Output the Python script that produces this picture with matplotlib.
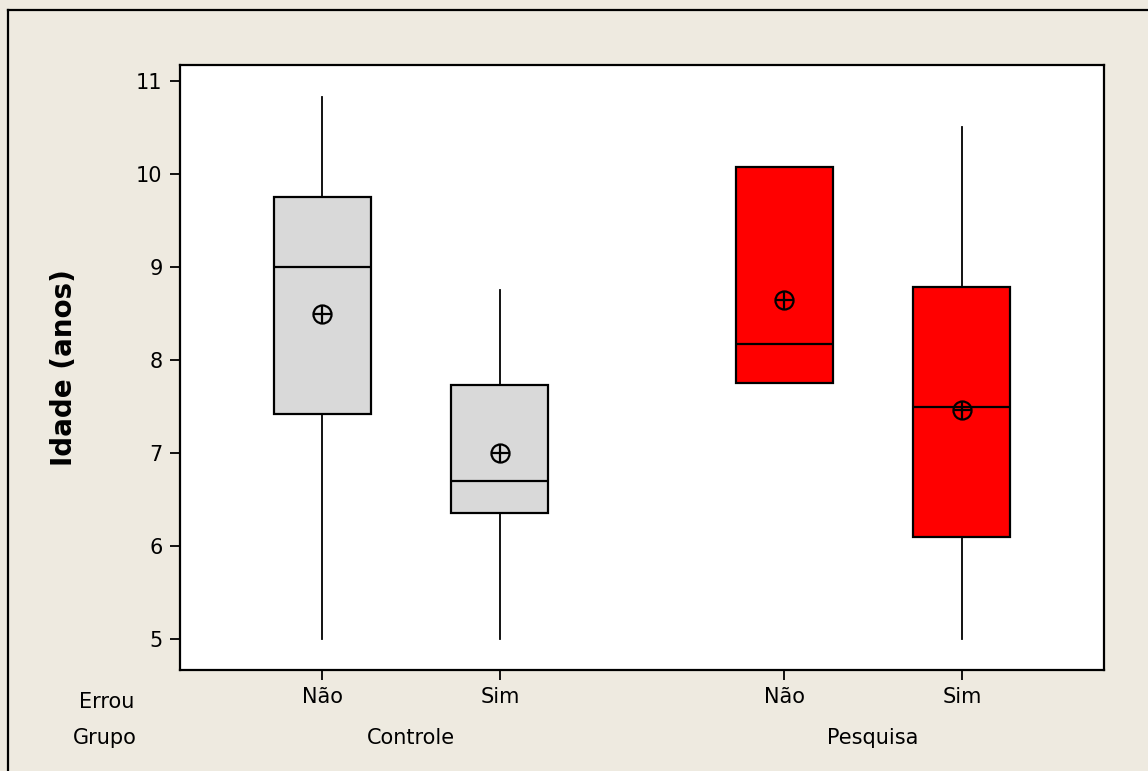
import matplotlib
matplotlib.use("Agg")
import matplotlib.pyplot as plt
from matplotlib.lines import Line2D
from matplotlib.transforms import blended_transform_factory

# Age (years) by group and whether the answer was wrong
grupos = ["Controle", "Controle", "Pesquisa", "Pesquisa"]
errou = ["Não", "Sim", "Não", "Sim"]
whisker_low = [5.0, 5.0, 7.75, 5.0]
q1 = [7.42, 6.35, 7.75, 6.10]
medians = [9.0, 6.70, 8.17, 7.50]
q3 = [9.75, 7.73, 10.08, 8.79]
whisker_high = [10.83, 8.75, 10.08, 10.50]
means = [8.50, 7.00, 8.65, 7.46]
box_colors = ["#D9D9D9", "#D9D9D9", "#FF0000", "#FF0000"]
yticks = [5, 6, 7, 8, 9, 10, 11]

positions = [1.0, 2.0, 3.6, 4.6]

W, H = 1148, 771
plt.rcParams["font.family"] = ["DejaVu Sans"]
fig = plt.figure(figsize=(W / 100, H / 100), dpi=100)
fig.patch.set_facecolor("#EEEAE0")

ax = fig.add_axes([180 / W, 1 - 670 / H, (1104 - 180) / W, (670 - 65) / H])
ax.set_facecolor("white")

stats = []
for i in range(len(positions)):
    stats.append({
        "whislo": whisker_low[i], "q1": q1[i], "med": medians[i],
        "q3": q3[i], "whishi": whisker_high[i], "mean": means[i],
        "fliers": [],
    })

bp = ax.bxp(stats, positions=positions, widths=0.545, patch_artist=True,
            showcaps=False, showfliers=False, showmeans=False,
            boxprops=dict(linewidth=1.6, edgecolor="black"),
            medianprops=dict(color="black", linewidth=1.6),
            whiskerprops=dict(color="black", linewidth=1.3))
for patch, c in zip(bp["boxes"], box_colors):
    patch.set_facecolor(c)

# Mean symbol: circle with a cross
ax.plot(positions, means, linestyle="none", marker="o", markersize=13,
        markerfacecolor="none", markeredgecolor="black", markeredgewidth=1.6, zorder=5)
ax.plot(positions, means, linestyle="none", marker="+", markersize=13,
        markeredgecolor="black", markeredgewidth=1.6, zorder=5)

ax.set_xlim(0.2, 5.4)
ax.set_ylim(4.667, 11.172)
ax.set_yticks(yticks)
ax.set_yticklabels([str(v) for v in yticks])
ax.set_xticks(positions)
ax.set_xticklabels(errou)

for sp in ax.spines.values():
    sp.set_linewidth(1.6)
ax.tick_params(axis="both", direction="out", length=7.5, width=1.3,
               labelsize=15, colors="black")
ax.tick_params(axis="x", pad=5)
ax.tick_params(axis="y", pad=5)

ax.set_ylabel("Idade (anos)", fontsize=20, fontweight="bold", labelpad=42)

# Group labels under the tick labels
trans = blended_transform_factory(ax.transData, fig.transFigure)
group_names = []
group_pos = []
for g, p in zip(grupos, positions):
    if g not in group_names:
        group_names.append(g)
        group_pos.append([p])
    else:
        group_pos[group_names.index(g)].append(p)
for g, ps in zip(group_names, group_pos):
    ax.text(sum(ps) / len(ps), 1 - 744 / H, g, transform=trans,
            ha="center", va="baseline", fontsize=15, clip_on=False)

fig.text(107 / W, 1 - 708 / H, "Errou", ha="center", va="baseline", fontsize=15)
fig.text(105 / W, 1 - 744 / H, "Grupo", ha="center", va="baseline", fontsize=15)

# Outer frame (top and left edges)
fig.add_artist(Line2D([8 / W, 1.0], [1 - 10 / H, 1 - 10 / H],
                      transform=fig.transFigure, color="black", linewidth=1.6))
fig.add_artist(Line2D([8 / W, 8 / W], [0.0, 1 - 10 / H],
                      transform=fig.transFigure, color="black", linewidth=1.6))

fig.savefig("out.png", dpi=100, facecolor=fig.get_facecolor())
